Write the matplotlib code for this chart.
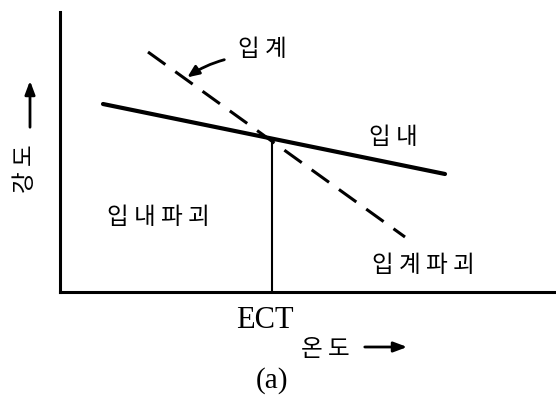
import matplotlib
matplotlib.use("Agg")
import matplotlib.pyplot as plt

plt.rcParams['font.family'] = ['Noto Sans CJK KR', 'DejaVu Sans']

# schematic strength vs temperature (arbitrary units)
intra_x = [43, 385]      # 입내 (transgranular) strength
intra_y = [188, 118]
inter_x = [88, 345]      # 입계 (intergranular) strength
inter_y = [240, 55]
ect_x = 212              # equicohesive temperature
ect_y = 152

fig = plt.figure(figsize=(5.56, 4.03), dpi=100)
ax = fig.add_axes([60 / 556, 111 / 403, 496 / 556, 280 / 403])
ax.set_xlim(0, 496)
ax.set_ylim(0, 280)
for s in ('top', 'right'):
    ax.spines[s].set_visible(False)
for s in ('left', 'bottom'):
    ax.spines[s].set_linewidth(2.2)
ax.set_xticks([])
ax.set_yticks([])

ax.plot(intra_x, intra_y, color='black', lw=3.0, solid_capstyle='round')
ax.plot(inter_x, inter_y, color='black', lw=2.2, dashes=(7, 4))
ax.plot([ect_x, ect_x], [0, ect_y], color='black', lw=1.5)

kw = dict(ha='center', va='center', fontsize=17, clip_on=False)
ax.text(202, 242, '입 계', **kw)
ax.text(333, 155, '입 내', **kw)
ax.text(98, 75, '입 내 파 괴', **kw)
ax.text(363, 27, '입 계 파 괴', **kw)
ax.annotate('', xy=(125, 213), xytext=(167, 233),
            arrowprops=dict(arrowstyle='-|>,head_length=0.7,head_width=0.3',
                            color='black', lw=2, connectionstyle='arc3,rad=0.1'),
            annotation_clip=False)

ax.text(205, -28, 'ECT', ha='center', va='center', fontsize=22,
        family='Liberation Serif', clip_on=False)
ax.text(265, -58, '온 도', ha='center', va='center', fontsize=17, clip_on=False)
ax.annotate('', xy=(350, -55), xytext=(302, -55),
            arrowprops=dict(arrowstyle='-|>,head_length=0.8,head_width=0.3',
                            color='black', lw=2),
            annotation_clip=False)
ax.text(212, -89, '(a)', ha='center', va='center', fontsize=21,
        family='Liberation Serif', clip_on=False)

ax.text(-35, 123, '강 도', ha='center', va='center', fontsize=17,
        rotation=90, clip_on=False)
ax.annotate('', xy=(-30, 214), xytext=(-30, 162),
            arrowprops=dict(arrowstyle='-|>,head_length=0.8,head_width=0.3',
                            color='black', lw=2),
            annotation_clip=False)

fig.savefig('out.png', dpi=100)
